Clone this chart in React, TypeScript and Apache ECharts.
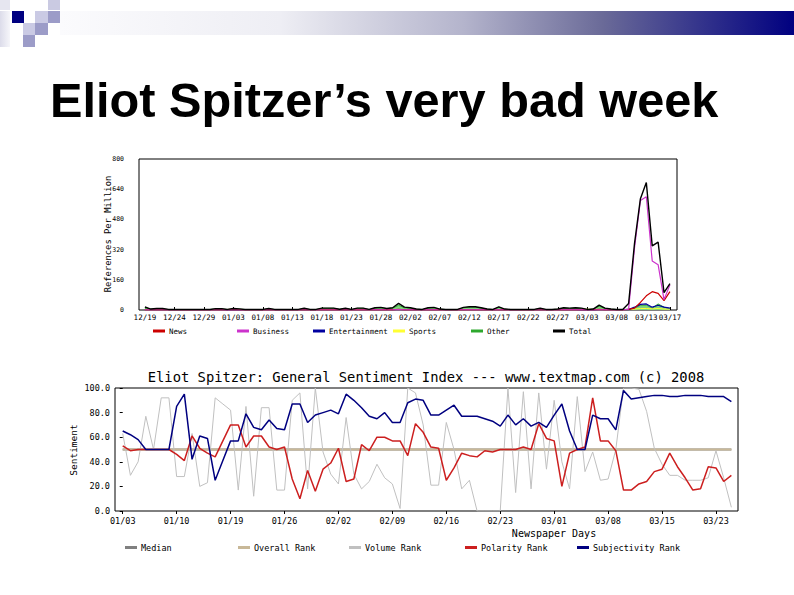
import React, { useEffect, useRef } from "react";
import * as echarts from "echarts";

// ---------- Top chart: references per million (daily, day 0 = 12/19) ----------
const topTickDays = [0, 5, 10, 15, 20, 25, 30, 35, 40, 45, 50, 55, 60, 65, 70, 75, 80, 85, 89];
const topTickLabels = ["12/19", "12/24", "12/29", "01/03", "01/08", "01/13", "01/18", "01/23", "01/28", "02/02", "02/07", "02/12", "02/17", "02/22", "02/27", "03/03", "03/08", "03/13", "03/17"];

const totalVals = [
  17, 5, 8, 8, 3, 3, 3, 3, 3, 3,
  3, 3, 7, 7, 3, 8, 6, 3, 3, 3,
  3, 8, 3, 3, 3, 3, 3, 9, 3, 3,
  10, 10, 10, 4, 9, 3, 10, 10, 3, 12,
  14, 8, 12, 35, 15, 12, 5, 3, 12, 14,
  5, 3, 3, 3, 14, 17, 17, 12, 5, 3,
  17, 5, 3, 3, 3, 3, 3, 9, 3, 3,
  5, 12, 10, 12, 10, 3, 5, 26, 10, 5,
  3, 3, 35, 353, 590, 675, 340, 360, 92, 140,
];
const otherVals = [
  11, 4, 6, 6, 2, 2, 2, 2, 2, 2,
  2, 2, 6, 6, 2, 6, 5, 2, 2, 2,
  2, 7, 2, 2, 2, 2, 2, 8, 2, 2,
  9, 9, 9, 3, 8, 2, 9, 9, 2, 10,
  12, 7, 10, 25, 12, 10, 4, 2, 10, 12,
  4, 2, 2, 2, 12, 15, 15, 10, 4, 2,
  15, 4, 2, 2, 2, 2, 2, 8, 2, 2,
  4, 10, 8, 10, 8, 2, 4, 20, 8, 4,
  2, 2, 5, 10, 25, 26, 10, 32, 15, 8,
];
const newsVals = [
  1, 0, 0.5, 0.5, 0, 0, 0, 0, 0, 0,
  0, 0, 0.5, 0.5, 0, 0.5, 0.5, 0, 0, 0,
  0, 0.5, 0, 0, 0, 0, 0, 0.5, 0, 0,
  0.5, 0.5, 0.5, 0.5, 0.5, 0, 0.5, 0.5, 0, 1,
  1, 0.5, 1, 4, 1, 1, 0.5, 0, 1, 1,
  0.5, 0, 0, 0, 1, 1, 1, 1, 0.5, 0,
  1, 0.5, 0, 0, 0, 0, 0, 0.5, 0, 0,
  0.5, 1, 1, 1, 1, 0, 0.5, 3, 1, 0.5,
  0, 0, 3, 10, 40, 75, 97, 88, 50, 97,
];
const businessVals = [
  0.5, 0, 0, 0, 0, 0, 0, 0, 0, 0,
  0, 0, 0, 0, 0, 0, 0, 0, 0, 0,
  0, 0, 0, 0, 0, 0, 0, 0, 0, 0,
  0, 0, 0, 0, 0, 0, 0, 0, 0, 0.5,
  0.5, 0, 0.5, 2, 0.5, 0.5, 0, 0, 0.5, 0.5,
  0, 0, 0, 0, 0.5, 0.5, 0.5, 0.5, 0, 0,
  0.5, 0, 0, 0, 0, 0, 0, 0, 0, 0,
  0, 0.5, 0.5, 0.5, 0.5, 0, 0, 1, 0.5, 0,
  0, 0, 5, 330, 580, 600, 260, 240, 55, 133,
];
const entertainmentVals = [
  0, 0, 0, 0, 0, 0, 0, 0, 0, 0,
  0, 0, 0, 0, 0, 0, 0, 0, 0, 0,
  0, 0, 0, 0, 0, 0, 0, 0, 0, 0,
  0, 0, 0, 0, 0, 0, 0, 0, 0, 0,
  0, 0, 0, 1, 0, 0, 0, 0, 0, 0,
  0, 0, 0, 0, 0, 0, 0, 0, 0, 0,
  0, 0, 0, 0, 0, 0, 0, 0, 0, 0,
  0, 0, 0, 0, 0, 0, 0, 1, 0, 0,
  0, 0, 2, 15, 30, 32, 15, 25, 15, 10,
];
const sportsVals = [
  0, 0, 0, 0, 0, 0, 0, 0, 0, 0,
  0, 0, 0, 0, 3, 4, 3, 0, 0, 0,
  0, 0, 0, 0, 0, 0, 0, 0, 0, 0,
  0, 0, 0, 0, 0, 0, 0, 0, 0, 0,
  0, 0, 0, 0, 0, 0, 0, 0, 0, 0,
  0, 0, 0, 0, 0, 0, 0, 0, 0, 0,
  0, 0, 0, 0, 0, 0, 0, 0, 0, 0,
  0, 0, 0, 0, 3, 4, 3, 0, 0, 0,
  0, 0, 3, 5, 8, 8, 6, 8, 5, 5,
];

// ---------- Bottom chart: sentiment index (newspaper days) ----------
const bottomTickIdx = [0, 7, 14, 21, 28, 35, 42, 49, 56, 63, 70, 77];
const bottomTickLabels = ["01/03", "01/10", "01/19", "01/26", "02/02", "02/09", "02/16", "02/23", "03/01", "03/08", "03/15", "03/23"];

const subjectivity = [
  65, 62, 58, 50, 50, 50, 50, 85, 95, 42,
  61, 59, 25, 41, 57, 57, 79, 68, 66, 74,
  67, 66, 87, 87, 72, 78, 80, 82, 79, 95,
  90, 84, 77, 75, 80, 72, 72, 88, 91, 90,
  78, 78, 82, 86, 77, 77, 77, 75, 73, 69,
  78, 70, 75, 69, 72, 68, 78, 87, 65, 50,
  50, 78, 75, 75, 66, 98, 91, 92, 93, 94,
  94, 93, 93, 94, 94, 94, 93, 93, 93, 89,
];
const polarity = [
  53, 49, 50, 50, 50, 50, 50, 46, 41, 61,
  51, 47, 44, 57, 70, 70, 52, 61, 61, 52,
  50, 52, 26, 10, 33, 16, 34, 39, 51, 24,
  26, 54, 49, 60, 60, 57, 57, 45, 71, 64,
  52, 51, 25, 35, 47, 45, 44, 49, 48, 50,
  50, 50, 52, 50, 71, 59, 57, 20, 47, 50,
  52, 92, 57, 57, 49, 17, 17, 22, 24, 32,
  34, 47, 36, 27, 17, 18, 36, 35, 24, 29,
];
const volume = [
  63, 29, 40, 77, 50, 92, 92, 28, 28, 63,
  20, 23, 92, 87, 82, 17, 85, 12, 84, 84,
  17, 17, 90, 96, 18, 100, 48, 30, 22, 76,
  30, 18, 24, 38, 27, 22, 2, 100, 96, 70,
  21, 21, 72, 50, 18, 25, 0, 0, 0, 0,
  100, 15, 97, 18, 96, 34, 90, 40, 18, 93,
  32, 48, 25, 26, 50, 100, 100, 99, 81, 51,
  38, 29, 29, 25, 25, 25, 27, 49, 27, 3,
];
const overall = [
  50, 50, 50, 50, 50, 50, 50, 50, 50, 50,
  50, 50, 50, 50, 50, 50, 50, 50, 50, 50,
  50, 50, 50, 50, 50, 50, 50, 50, 50, 50,
  50, 50, 50, 50, 50, 50, 50, 50, 50, 50,
  50, 50, 50, 50, 50, 50, 50, 50, 50, 50,
  50, 50, 50, 50, 50, 50, 50, 50, 50, 50,
  50, 50, 50, 50, 50, 50, 50, 50, 50, 50,
  50, 50, 50, 50, 50, 50, 50, 50, 50, 50,
];
const median = [
  50, 50, 50, 50, 50, 50, 50, 50, 50, 50,
  50, 50, 50, 50, 50, 50, 50, 50, 50, 50,
  50, 50, 50, 50, 50, 50, 50, 50, 50, 50,
  50, 50, 50, 50, 50, 50, 50, 50, 50, 50,
  50, 50, 50, 50, 50, 50, 50, 50, 50, 50,
  50, 50, 50, 50, 50, 50, 50, 50, 50, 50,
  50, 50, 50, 50, 50, 50, 50, 50, 50, 50,
  50, 50, 50, 50, 50, 50, 50, 50, 50, 50,
];

const MONO = '"DejaVu Sans Mono", monospace';
const pairs = (arr: number[]) => arr.map((v, i) => [i, v]);

function topLine(name: string, data: number[], color: string, width: number, z: number, area?: string) {
  return {
    name,
    type: "line",
    xAxisIndex: 0,
    yAxisIndex: 0,
    data: pairs(data),
    showSymbol: false,
    symbol: "none",
    z,
    lineStyle: { color, width },
    itemStyle: { color },
    areaStyle: area ? { color: area, opacity: 1 } : undefined,
  };
}
function botLine(name: string, data: number[], color: string, width: number, z: number) {
  return {
    name,
    type: "line",
    xAxisIndex: 1,
    yAxisIndex: 1,
    data: pairs(data),
    showSymbol: false,
    symbol: "none",
    z,
    lineStyle: { color, width },
    itemStyle: { color },
  };
}
function oneLegend(name: string, left: number, top: number, fontSize: number) {
  return {
    data: [name],
    left,
    top,
    padding: 0,
    itemGap: 0,
    itemWidth: 12,
    itemHeight: 3,
    icon: "rect",
    selectedMode: false,
    textStyle: { fontSize, fontFamily: MONO, color: "#000", padding: [0, 0, 0, -1] },
  };
}

export default function App() {
  const ref = useRef<HTMLDivElement>(null);
  useEffect(() => {
    const chart = echarts.init(ref.current!, null, { renderer: "svg" });
    const txt = (text: string, x: number, y: number, size: number, family: string, extra: any = {}) => ({
      type: "text",
      x,
      y,
      rotation: extra.rotation || 0,
      style: {
        text,
        fill: "#000",
        fontSize: size,
        fontFamily: family,
        fontWeight: extra.weight || "normal",
        align: extra.align || "left",
        textAlign: extra.align || "left",
        verticalAlign: "middle",
        textVerticalAlign: "middle",
      },
    });
    const sq = (x: number, y: number, w: number, h: number, fill: any) => ({
      type: "rect",
      shape: { x, y, width: w, height: h },
      style: { fill },
      silent: true,
    });
    chart.setOption({
      animation: false,
      backgroundColor: "#ffffff",
      graphic: [
        sq(60, 11, 734, 24, new echarts.graphic.LinearGradient(0, 0, 1, 0, [
          { offset: 0, color: "#fbfbfd" },
          { offset: 0.3, color: "#eeeef4" },
          { offset: 0.55, color: "#b4b4cc" },
          { offset: 0.74, color: "#6a6a98" },
          { offset: 1, color: "#000080" },
        ])),
        sq(0, 11, 10, 36, new echarts.graphic.LinearGradient(0, 0, 1, 0, [
          { offset: 0, color: "#dcdcea" },
          { offset: 1, color: "#f6f6fa" },
        ])),
        sq(0, 0, 10, 10, "#e6e6f0"),
        sq(48, 0, 12, 10, "#cacae2"),
        sq(12, 11, 12, 12, "#000080"),
        sq(35, 11, 13, 12, "#cacae4"),
        sq(48, 11, 12, 12, "#9c9cc8"),
        sq(23, 23, 12, 12, "#cacae4"),
        sq(35, 23, 13, 12, "#9c9cc8"),
        sq(23, 35, 12, 12, "#9c9cc8"),
        txt("Eliot Spitzer’s very bad week", 50, 100, 48.7, '"Liberation Sans", Arial, sans-serif', { weight: "bold" }),
        txt("References Per Million", 108, 234, 8.8, MONO, { rotation: Math.PI / 2, align: "center" }),
        txt("Eliot Spitzer: General Sentiment Index --- www.textmap.com (c) 2008", 426, 377, 13.8, MONO, { align: "center" }),
        txt("Sentiment", 73, 450, 9.5, MONO, { rotation: Math.PI / 2, align: "center" }),
        txt("Newspaper Days", 554, 533, 10, MONO, { align: "center" }),
      ],
      grid: [
        { left: 139, top: 159, width: 538, height: 151, show: true, borderColor: "#000", borderWidth: 1, backgroundColor: "transparent" },
        { left: 115, top: 388, width: 623, height: 123, show: true, borderColor: "#000", borderWidth: 1, backgroundColor: "transparent" },
      ],
      xAxis: [
        {
          type: "value", gridIndex: 0, min: -1, max: 90.2,
          axisLine: { show: false }, splitLine: { show: false },
          axisTick: { show: true, inside: true, length: 3, customValues: topTickDays, lineStyle: { color: "#000" } },
          axisLabel: {
            customValues: topTickDays, margin: 3, fontSize: 7.5, fontFamily: MONO, color: "#000",
            formatter: (v: number) => topTickLabels[topTickDays.indexOf(Math.round(v))] ?? "",
          },
        },
        {
          type: "value", gridIndex: 1, min: -1, max: 79.86,
          axisLine: { show: false }, splitLine: { show: false },
          axisTick: { show: true, inside: false, length: 3, customValues: bottomTickIdx, lineStyle: { color: "#000" } },
          axisLabel: {
            customValues: bottomTickIdx, margin: 5, fontSize: 8.5, fontFamily: MONO, color: "#000",
            formatter: (v: number) => bottomTickLabels[bottomTickIdx.indexOf(Math.round(v))] ?? "",
          },
        },
      ],
      yAxis: [
        {
          type: "value", gridIndex: 0, min: 0, max: 800, interval: 160,
          axisLine: { show: false }, splitLine: { show: false }, axisTick: { show: false },
          axisLabel: { margin: 15, fontSize: 6.5, fontFamily: MONO, color: "#000", formatter: (v: number) => String(v) },
        },
        {
          type: "value", gridIndex: 1, min: 0, max: 100, interval: 20,
          axisLine: { show: false }, splitLine: { show: false },
          axisTick: { show: true, length: 3, lineStyle: { color: "#000" } },
          axisLabel: { margin: 5, fontSize: 8.5, fontFamily: MONO, color: "#000", formatter: (v: number) => v.toFixed(1) },
        },
      ],
      legend: [
        oneLegend("News", 153, 327, 7.5),
        oneLegend("Business", 237, 327, 7.5),
        oneLegend("Entertainment", 313, 327, 7.5),
        oneLegend("Sports", 393, 327, 7.5),
        oneLegend("Other", 471, 327, 7.5),
        oneLegend("Total", 553, 327, 7.5),
        oneLegend("Median", 125, 543, 8.5),
        oneLegend("Overall Rank", 238, 543, 8.5),
        oneLegend("Volume Rank", 349, 543, 8.5),
        oneLegend("Polarity Rank", 465, 543, 8.5),
        oneLegend("Subjectivity Rank", 577, 543, 8.5),
      ],
      series: [
        topLine("Other", otherVals, "#2ea82e", 1, 2, "#7fd37f"),
        topLine("Sports", sportsVals, "#ffff33", 1, 3),
        topLine("Entertainment", entertainmentVals, "#0000a0", 1.2, 4),
        topLine("News", newsVals, "#cc0000", 1.2, 5),
        topLine("Business", businessVals, "#cc33cc", 1.2, 6),
        topLine("Total", totalVals, "#000000", 1.4, 7),
        botLine("Median", median, "#808080", 2, 2),
        botLine("Overall Rank", overall, "#c8b898", 2.2, 3),
        botLine("Volume Rank", volume, "#c0c0c0", 1, 4),
        botLine("Polarity Rank", polarity, "#cc1f1f", 1.5, 5),
        botLine("Subjectivity Rank", subjectivity, "#000080", 1.5, 6),
      ],
    });
    return () => chart.dispose();
  }, []);
  return (
    <div
      ref={ref}
      style={{ position: "fixed", left: 0, top: 0, width: 794, height: 595, background: "#fff" }}
    />
  );
}
